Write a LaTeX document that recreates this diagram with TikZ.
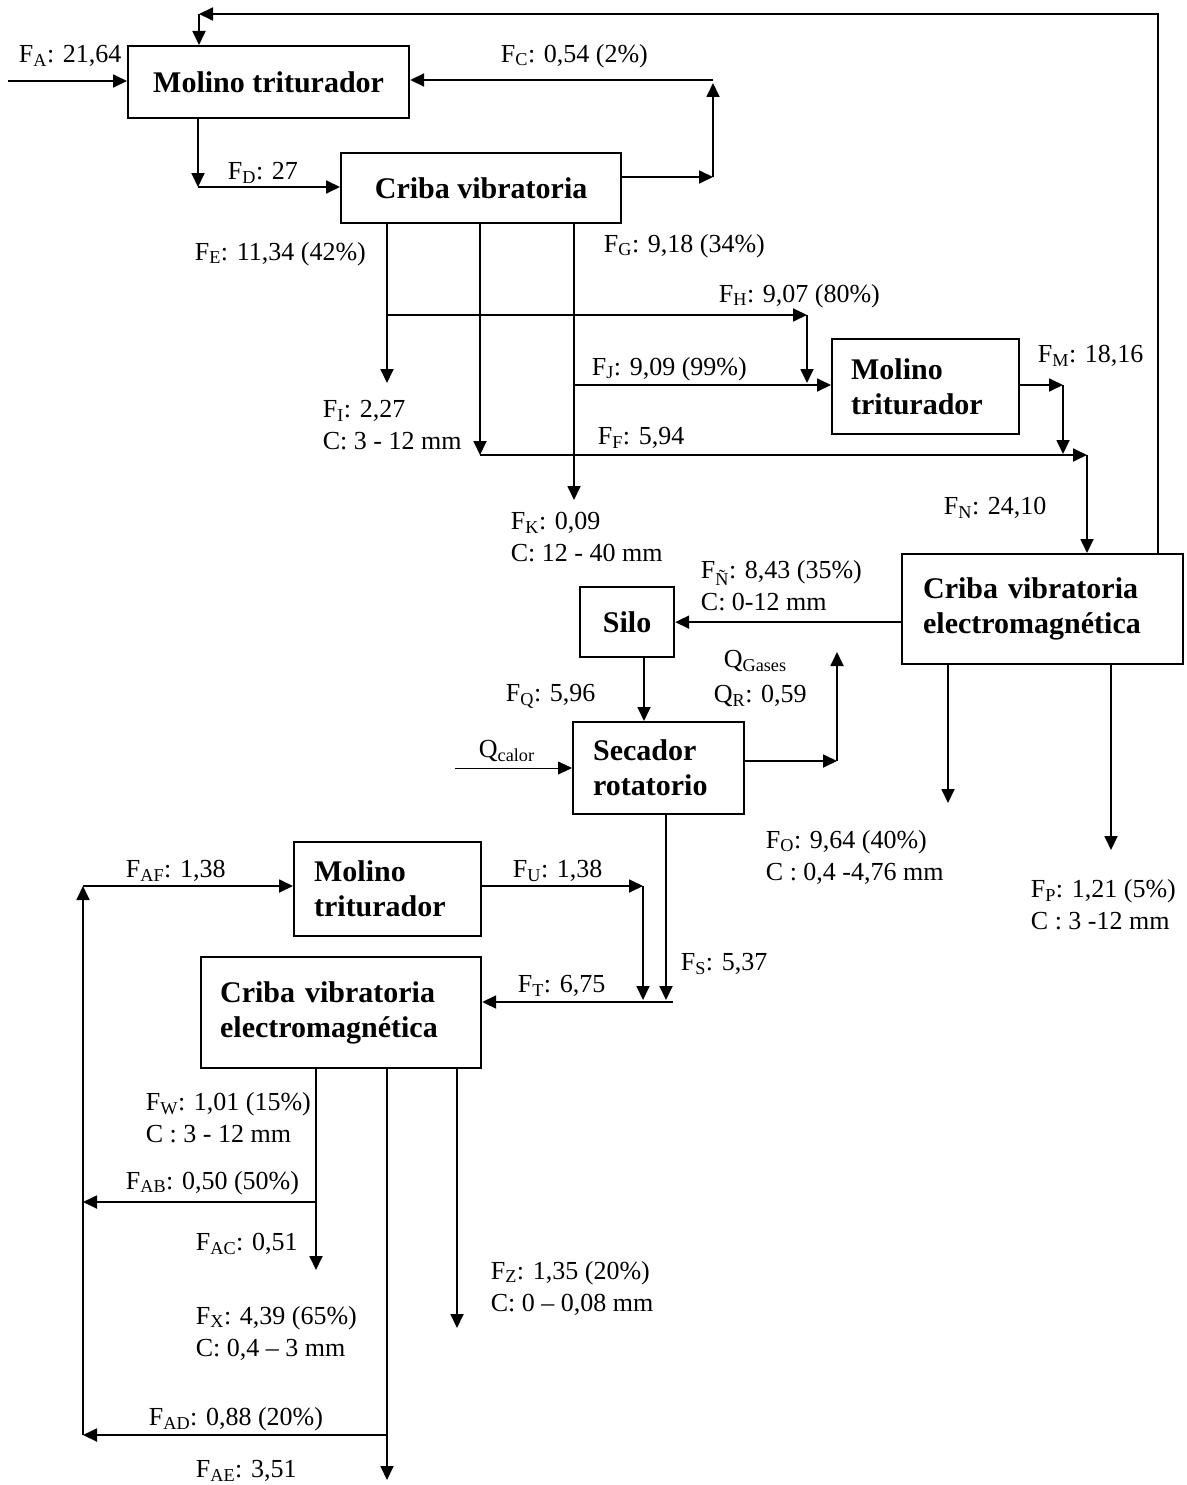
\documentclass[tikz,border=0pt]{standalone}
\usepackage{fontspec}
\setmainfont{Liberation Serif}
\usepackage{tikz}
\usetikzlibrary{arrows.meta}

\newcommand{\Fl}[1]{F\textsubscript{#1}}
\newcommand{\Ql}[1]{Q\textsubscript{#1}}

\begin{document}
\begin{tikzpicture}[x=1pt, y=-1pt, -{Triangle[length=14pt,width=13pt]}, line width=1.8pt,
  unit node/.style={draw, line width=2.2pt, anchor=north west, inner sep=0pt, font=\fontsize{30}{35}\selectfont\bfseries},
  tag node/.style={anchor=west, inner sep=0pt, align=left, font=\fontsize{26}{32}\selectfont}]
\useasboundingbox (0,0) rectangle (1186,1485);

% equipos
\node [unit node, minimum width=281, minimum height=72] (mt1) at (127,45) {Molino triturador};
\node [unit node, minimum width=280, minimum height=70] (cv1) at (340,152) {Criba vibratoria};
\node [unit node, align=left, text width=149, inner xsep=19, minimum height=95] (mt2) at (831,338) {Molino\\triturador};
\node [unit node, align=left, text width=239, inner xsep=21, minimum height=110] (cve1) at (901,553) {Criba vibratoria\\electromagnética};
\node [unit node, minimum width=94, minimum height=70] (silo) at (579,586) {Silo};
\node [unit node, align=left, text width=131, inner xsep=20, minimum height=92] (sec) at (572,721) {Secador\\rotatorio};
\node [unit node, align=left, text width=147, inner xsep=20, minimum height=94] (mt3) at (293,841) {Molino\\triturador};
\node [unit node, align=left, text width=242, inner xsep=19, minimum height=111] (cve2) at (200,956) {Criba vibratoria\\electromagnética};

% puntos de union
\coordinate (inA) at (8,81);
\coordinate (topR) at (1158,14);
\coordinate (ret) at (199,14);
\coordinate (c1) at (713,177);
\coordinate (c2) at (713,83);
\coordinate (c3) at (713,80);
\coordinate (d1) at (198,187);
\coordinate (e1) at (387,315);
\coordinate (e2) at (387,383);
\coordinate (h1) at (807,315);
\coordinate (h2) at (807,383);
\coordinate (f1) at (480,455);
\coordinate (f2) at (1087,455);
\coordinate (g1) at (574,385);
\coordinate (k1) at (574,500);
\coordinate (m1) at (1063,385);
\coordinate (m2) at (1063,454);
\coordinate (o1) at (948,803);
\coordinate (p1) at (1111,850);
\coordinate (q1) at (644,700);
\coordinate (heat) at (455,768);
\coordinate (r1) at (837,761);
\coordinate (r2) at (837,652);
\coordinate (s1) at (666,1000);
\coordinate (u1) at (643,886);
\coordinate (u2) at (643,1000);
\coordinate (t1) at (673,1002);
\coordinate (w1) at (316,1202);
\coordinate (w2) at (316,1270);
\coordinate (lb) at (83,1202);
\coordinate (x1) at (387,1435);
\coordinate (x2) at (387,1480);
\coordinate (la) at (83,1435);
\coordinate (z1) at (457,1328);
\coordinate (lt) at (83,886);

% corrientes
\draw (inA) -- (mt1.west |- inA);
\draw (cve1.north -| topR) -- (topR) -- (ret);
\draw (ret) -- (mt1.north -| ret);
\draw (cv1.east |- c1) -- (c1);
\draw (c1) -- (c2);
\draw (c3) -- (mt1.east |- c3);
\draw (mt1.south -| d1) -- (d1);
\draw (d1) -- (cv1.west |- d1);
\draw (cv1.south -| e1) -- (e2);
\draw (e1) -- (h1);
\draw (h1) -- (h2);
\draw (cv1.south -| f1) -- (f1);
\draw (f1) -- (f2);
\draw (f2) -- (cve1.north -| f2);
\draw (cv1.south -| g1) -- (k1);
\draw (g1) -- (mt2.west |- g1);
\draw (mt2.east |- m1) -- (m1);
\draw (m1) -- (m2);
\draw (cve1.west |- silo.east) -- (silo.east);
\draw (cve1.south -| o1) -- (o1);
\draw (cve1.south -| p1) -- (p1);
\draw (silo.south -| q1) -- (sec.north -| q1);
\draw [line width=0.8pt] (heat) -- (sec.west |- heat);
\draw (sec.east |- r1) -- (r1);
\draw (r1) -- (r2);
\draw (sec.south -| s1) -- (s1);
\draw (mt3.east |- u1) -- (u1);
\draw (u1) -- (u2);
\draw (t1) -- (cve2.east |- t1);
\draw (cve2.south -| w1) -- (w2);
\draw (w1) -- (lb);
\draw (cve2.south -| x1) -- (x2);
\draw (x1) -- (la);
\draw (cve2.south -| z1) -- (z1);
\draw (la) -- (lt);
\draw (lt) -- (mt3.west |- lt);

% caudales
\node [tag node] (lA) at (18,56) {\Fl{A}: 21,64};
\node [tag node] (lC) at (500,56) {\Fl{C}: 0,54 (2\%)};
\node [tag node] (lD) at (227,173) {\Fl{D}: 27};
\node [tag node] (lE) at (194,254) {\Fl{E}: 11,34 (42\%)};
\node [tag node] (lG) at (603,246) {\Fl{G}: 9,18 (34\%)};
\node [tag node] (lH) at (718,296) {\Fl{H}: 9,07 (80\%)};
\node [tag node] (lJ) at (591,369) {\Fl{J}: 9,09 (99\%)};
\node [tag node] (lI) at (322,425) {\Fl{I}: 2,27\\C: 3 - 12 mm};
\node [tag node] (lF) at (597,438) {\Fl{F}: 5,94};
\node [tag node] (lK) at (510,537) {\Fl{K}: 0,09\\C: 12 - 40 mm};
\node [tag node] (lM) at (1037,356) {\Fl{M}: 18,16};
\node [tag node] (lN) at (943,508) {\Fl{N}: 24,10};
\node [tag node] (lNN) at (700,586) {\Fl{Ñ}: 8,43 (35\%)\\C: 0-12 mm};
\node [tag node] (lGas) at (723,661) {\Ql{Gases}};
\node [tag node] (lR) at (713,696) {\Ql{R}: 0,59};
\node [tag node] (lQ) at (505,696) {\Fl{Q}: 5,96};
\node [tag node] (lcal) at (478,751) {\Ql{calor}};
\node [tag node] (lO) at (765,857) {\Fl{O}: 9,64 (40\%)\\C : 0,4 -4,76 mm};
\node [tag node] (lP) at (1030,905) {\Fl{P}: 1,21 (5\%)\\C : 3 -12 mm};
\node [tag node] (lAF) at (125,871) {\Fl{AF}: 1,38};
\node [tag node] (lU) at (512,871) {\Fl{U}: 1,38};
\node [tag node] (lS) at (680,964) {\Fl{S}: 5,37};
\node [tag node] (lT) at (517,986) {\Fl{T}: 6,75};
\node [tag node] (lW) at (145,1118) {\Fl{W}: 1,01 (15\%)\\C : 3 - 12 mm};
\node [tag node] (lAB) at (125,1183) {\Fl{AB}: 0,50 (50\%)};
\node [tag node] (lAC) at (195,1244) {\Fl{AC}: 0,51};
\node [tag node] (lZ) at (490,1288) {\Fl{Z}: 1,35 (20\%)\\C: 0 – 0,08 mm};
\node [tag node] (lX) at (195,1333) {\Fl{X}: 4,39 (65\%)\\C: 0,4 – 3 mm};
\node [tag node] (lAD) at (148,1419) {\Fl{AD}: 0,88 (20\%)};
\node [tag node] (lAE) at (195,1471) {\Fl{AE}: 3,51};
\end{tikzpicture}
\end{document}
